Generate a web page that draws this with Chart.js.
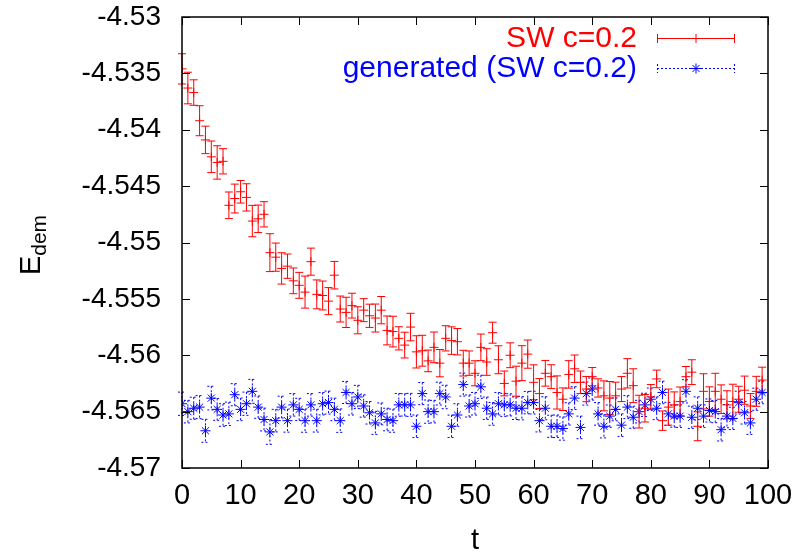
<!DOCTYPE html>
<html><head><meta charset="utf-8">
<script src="https://cdn.jsdelivr.net/npm/chart.js@4/dist/chart.umd.min.js"></script>
<style>html,body{margin:0;padding:0;background:#fff}canvas{display:block}</style>
</head><body>
<canvas id="c" width="799" height="554"></canvas>
<script>
const tValues = [0,1,2,3,4,5,6,7,8,9,10,11,12,13,14,15,16,17,18,19,20,21,22,23,24,25,26,27,28,29,30,31,32,33,34,35,36,37,38,39,40,41,42,43,44,45,46,47,48,49,50,51,52,53,54,55,56,57,58,59,60,61,62,63,64,65,66,67,68,69,70,71,72,73,74,75,76,77,78,79,80,81,82,83,84,85,86,87,88,89,90,91,92,93,94,95,96,97,98,99];

const swValues = [-4.5346,-4.5363,-4.5367,-4.5392,-4.5409,-4.5424,-4.5429,-4.5428,-4.5467,-4.5461,
-4.5455,-4.5460,-4.5481,-4.5479,-4.5475,-4.5509,-4.5513,-4.5523,-4.5521,-4.5534,
-4.5538,-4.5544,-4.5517,-4.5546,-4.5547,-4.5552,-4.5529,-4.5559,-4.5562,-4.5556,
-4.5569,-4.5560,-4.5565,-4.5567,-4.5560,-4.5578,-4.5579,-4.5585,-4.5591,-4.5575,
-4.5597,-4.5596,-4.5605,-4.5593,-4.5607,-4.5585,-4.5587,-4.5588,-4.5607,-4.5607,
-4.5616,-4.5593,-4.5606,-4.5580,-4.5604,-4.5625,-4.5600,-4.5623,-4.5607,-4.5599,
-4.5624,-4.5634,-4.5616,-4.5619,-4.5633,-4.5639,-4.5617,-4.5612,-4.5624,-4.5630,
-4.5619,-4.5629,-4.5636,-4.5638,-4.5636,-4.5630,-4.5616,-4.5627,-4.5650,-4.5647,
-4.5637,-4.5621,-4.5658,-4.5646,-4.5644,-4.5641,-4.5619,-4.5615,-4.5663,-4.5632,
-4.5641,-4.5632,-4.5639,-4.5644,-4.5641,-4.5639,-4.5631,-4.5645,-4.5632,-4.5622];

const swErrors = [0.00134,0.0014,0.00113,0.00133,0.00122,0.0014,0.00148,0.00112,0.00118,0.00128,
0.0010,0.00121,0.00139,0.00122,0.00112,0.00168,0.00125,0.00139,0.00108,0.00114,
0.00115,0.00142,0.0012,0.00128,0.00128,0.0012,0.00122,0.00115,0.00134,0.0011,
0.0012,0.00102,0.00103,0.00124,0.00121,0.00128,0.00136,0.00103,0.00114,0.00122,
0.00143,0.00137,0.00096,0.00136,0.00121,0.00112,0.00122,0.00117,0.00114,0.00108,
0.00111,0.00118,0.00118,0.00093,0.00124,0.0011,0.0011,0.00133,0.00155,0.00125,
0.00155,0.00133,0.00114,0.00106,0.00147,0.0010,0.00122,0.00122,0.0010,0.00112,
0.00081,0.00081,0.00133,0.00147,0.00121,0.00111,0.0013,0.0015,0.00145,0.00122,
0.0011,0.00078,0.00086,0.0016,0.00115,0.00128,0.0009,0.0011,0.00128,0.00156,
0.0013,0.0016,0.00127,0.00125,0.00153,0.00115,0.00125,0.0011,0.00133,0.00114];

const genValues = [-4.5643,-4.5650,-4.5647,-4.5646,-4.5667,-4.5638,-4.5648,-4.5653,-4.5652,-4.5635,
-4.5648,-4.5643,-4.5632,-4.5646,-4.5657,-4.5668,-4.5658,-4.5646,-4.5658,-4.5644,
-4.5648,-4.5658,-4.5644,-4.5658,-4.5643,-4.5642,-4.5648,-4.5658,-4.5633,-4.5643,
-4.5637,-4.5645,-4.5651,-4.5660,-4.5652,-4.5657,-4.5658,-4.5644,-4.5644,-4.5644,
-4.5663,-4.5634,-4.5650,-4.5650,-4.5634,-4.5637,-4.5663,-4.5653,-4.5626,-4.5645,
-4.5643,-4.5628,-4.5647,-4.5652,-4.5643,-4.5644,-4.5644,-4.5647,-4.5647,-4.5642,
-4.5642,-4.5658,-4.5647,-4.5663,-4.5663,-4.5665,-4.5652,-4.5638,-4.5664,-4.5634,
-4.5630,-4.5652,-4.5663,-4.5654,-4.5648,-4.5662,-4.5646,-4.5655,-4.5650,-4.5644,
-4.5639,-4.5647,-4.5633,-4.5652,-4.5654,-4.5654,-4.5632,-4.5655,-4.5647,-4.5654,
-4.5649,-4.5650,-4.5666,-4.5654,-4.5656,-4.5642,-4.5651,-4.5660,-4.5639,-4.5633];

const genErrors = [0.00103,0.001,0.00098,0.00102,0.00102,0.00105,0.00097,0.001,0.00104,0.00098,
0.001,0.00103,0.00106,0.00099,0.00101,0.0011,0.001,0.00097,0.00102,0.001,
0.00098,0.00103,0.001,0.00101,0.00099,0.00102,0.001,0.00104,0.00098,0.001,
0.00103,0.00099,0.001,0.00102,0.00097,0.001,0.00103,0.00101,0.00099,0.00102,
0.001,0.00098,0.00103,0.001,0.00101,0.00104,0.00099,0.001,0.00102,0.00098,
0.001,0.00103,0.00099,0.00101,0.001,0.00102,0.00098,0.001,0.00103,0.00099,
0.00101,0.001,0.00102,0.00098,0.001,0.00103,0.00099,0.00101,0.001,0.00102,
0.00098,0.001,0.00103,0.00099,0.00101,0.001,0.00102,0.00098,0.001,0.00103,
0.00099,0.00101,0.001,0.00102,0.00098,0.001,0.00103,0.00099,0.00101,0.001,
0.00102,0.00098,0.001,0.00103,0.00099,0.00101,0.001,0.00102,0.00098,0.001];

const seriesLabels = ['SW c=0.2', 'generated (SW c=0.2)'];
const xTickLabels = ['0','10','20','30','40','50','60','70','80','90','100'];
const yTickLabels = ['-4.57','-4.565','-4.56','-4.555','-4.55','-4.545','-4.54','-4.535','-4.53'];
const xTitle = 't';
const yTitleMain = 'E';
const yTitleSub = 'dem';

const FONT = "'Liberation Sans', Arial, Helvetica, sans-serif";
const RED = '#ff0000';
const BLUE = '#0000ff';

function toPoints(xs, ys, es) { return xs.map((x, i) => ({ x: x, y: ys[i], e: es[i] })); }

const errorBarPlugin = {
  id: 'errorBars',
  beforeDatasetsDraw(chart) {
    const ctx = chart.ctx;
    const xs = chart.scales.x, ys = chart.scales.y;
    for (let d = chart.data.datasets.length - 1; d >= 0; d--) {
      const ds = chart.data.datasets[d];
      ctx.save();
      ctx.strokeStyle = ds.borderColor;
      ctx.lineWidth = 1;
      ctx.setLineDash(ds.errDash || []);
      ds.data.forEach(p => {
        const px = xs.getPixelForValue(p.x);
        const y1 = ys.getPixelForValue(p.y + p.e);
        const y2 = ys.getPixelForValue(p.y - p.e);
        ctx.beginPath();
        ctx.moveTo(px, y1); ctx.lineTo(px, y2);
        ctx.moveTo(px - 4, y1); ctx.lineTo(px + 4, y1);
        ctx.moveTo(px - 4, y2); ctx.lineTo(px + 4, y2);
        ctx.stroke();
      });
      ctx.restore();
    }
  }
};

const framePlugin = {
  id: 'frame',
  afterDraw(chart) {
    const ctx = chart.ctx;
    const a = chart.chartArea;
    const xs = chart.scales.x, ys = chart.scales.y;
    ctx.save();
    ctx.strokeStyle = '#000';
    ctx.lineWidth = 1;
    ctx.setLineDash([]);
    ctx.beginPath();
    xs.ticks.forEach(t => {
      const px = Math.round(xs.getPixelForValue(t.value)) + 0.5;
      ctx.moveTo(px, a.bottom); ctx.lineTo(px, a.bottom - 8);
      ctx.moveTo(px, a.top); ctx.lineTo(px, a.top + 8);
    });
    ys.ticks.forEach(t => {
      const py = Math.round(ys.getPixelForValue(t.value)) + 0.5;
      ctx.moveTo(a.left, py); ctx.lineTo(a.left + 8, py);
      ctx.moveTo(a.right, py); ctx.lineTo(a.right - 8, py);
    });
    ctx.stroke();
    ctx.lineWidth = 1.5;
    ctx.strokeRect(a.left, a.top, a.right - a.left, a.bottom - a.top);

    ctx.fillStyle = '#000';
    ctx.font = '29px ' + FONT;
    ctx.textAlign = 'center';
    ctx.textBaseline = 'middle';
    ctx.fillText(xTitle, (a.left + a.right) / 2, 541);
    ctx.save();
    ctx.translate(30, 245);
    ctx.rotate(-Math.PI / 2);
    ctx.textAlign = 'left';
    ctx.textBaseline = 'alphabetic';
    const wE = ctx.measureText(yTitleMain).width;
    ctx.font = '21px ' + FONT;
    const wS = ctx.measureText(yTitleSub).width;
    const start = -(wE + wS) / 2;
    ctx.font = '29px ' + FONT;
    ctx.fillText(yTitleMain, start, 10);
    ctx.font = '21px ' + FONT;
    ctx.fillText(yTitleSub, start + wE, 16);
    ctx.restore();

    const entries = [
      { label: seriesLabels[0], color: RED, dash: [], y: 38, style: 'cross' },
      { label: seriesLabels[1], color: BLUE, dash: [2, 2], y: 68, style: 'star' }
    ];
    entries.forEach(en => {
      ctx.font = '30px ' + FONT;
      ctx.fillStyle = en.color;
      ctx.textAlign = 'right';
      ctx.textBaseline = 'middle';
      ctx.fillText(en.label, 637, en.y + 1);
      ctx.strokeStyle = en.color;
      ctx.lineWidth = 1;
      ctx.setLineDash(en.dash);
      ctx.beginPath();
      ctx.moveTo(657, en.y + 0.5); ctx.lineTo(735, en.y + 0.5);
      ctx.moveTo(657.5, en.y - 4); ctx.lineTo(657.5, en.y + 5);
      ctx.moveTo(734.5, en.y - 4); ctx.lineTo(734.5, en.y + 5);
      ctx.stroke();
      ctx.setLineDash([]);
      Chart.helpers.drawPoint(ctx, { pointStyle: en.style, radius: en.style === 'star' ? 5 : 4.5, borderWidth: 1, rotation: 0 }, 696, en.y + 0.5);
    });
    ctx.restore();
  }
};

new Chart(document.getElementById('c'), {
  type: 'scatter',
  data: {
    datasets: [
      {
        label: seriesLabels[0],
        data: toPoints(tValues, swValues, swErrors),
        borderColor: RED, backgroundColor: RED,
        pointStyle: 'cross', pointRadius: 4.5, pointBorderWidth: 1,
        showLine: false, errDash: []
      },
      {
        label: seriesLabels[1],
        data: toPoints(tValues, genValues, genErrors),
        borderColor: BLUE, backgroundColor: BLUE,
        pointStyle: 'star', pointRadius: 5, pointBorderWidth: 1,
        showLine: false, errDash: [2, 2]
      }
    ]
  },
  options: {
    responsive: false,
    animation: false,
    devicePixelRatio: 1,
    layout: { padding: { top: 17, right: 31, left: 0, bottom: 0 } },
    plugins: { legend: { display: false }, tooltip: { enabled: false } },
    scales: {
      x: {
        type: 'linear', min: 0, max: 100,
        grid: { display: false }, border: { display: false },
        ticks: {
          stepSize: 10, color: '#000', padding: 3, maxRotation: 0,
          font: { family: FONT, size: 29 },
          callback: (v, i) => xTickLabels[i]
        },
        afterFit: s => { s.height = 86; s.paddingLeft = 0; s.paddingRight = 0; }
      },
      y: {
        type: 'linear', min: -4.57, max: -4.53,
        grid: { display: false }, border: { display: false },
        ticks: {
          stepSize: 0.005, color: '#000', padding: 13,
          font: { family: FONT, size: 28 },
          callback: (v, i) => yTickLabels[i]
        },
        afterFit: s => { s.width = 182; s.paddingTop = 0; s.paddingBottom = 0; }
      }
    }
  },
  plugins: [errorBarPlugin, framePlugin]
});
</script>
</body></html>
